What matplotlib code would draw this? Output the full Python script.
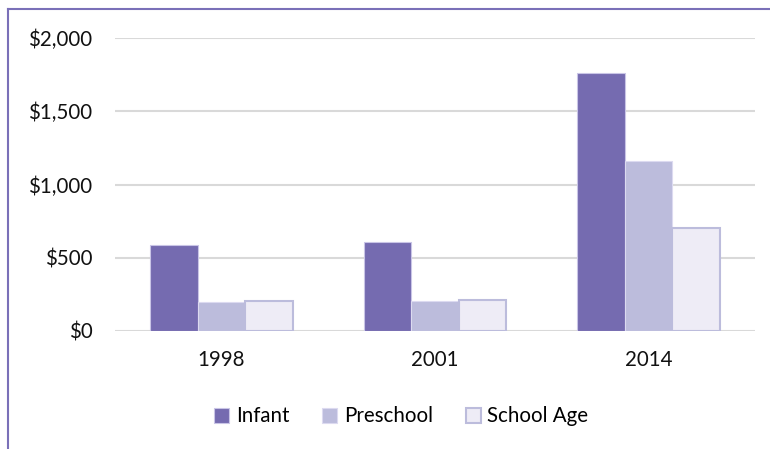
import matplotlib.pyplot as plt
from matplotlib.lines import Line2D
from matplotlib.ticker import FuncFormatter
import numpy as np

years = ['1998', '2001', '2014']
infant = [585, 605, 1763]
preschool = [199, 205, 1159]
school_age = [201, 210, 701]

plt.rcParams['font.family'] = ['Lato', 'DejaVu Sans']

fig = plt.figure(figsize=(7.7, 4.49), dpi=100)
ax = fig.add_axes([0.149, 0.263, 0.832, 0.652])

x = np.arange(len(years))
w = 0.223
ax.bar(x - w, infant, w, color='#756BB0', edgecolor='#C9C5E6', linewidth=0.8, label='Infant', zorder=3)
ax.bar(x, preschool, w, color='#BCBCDC', edgecolor='#DCDAF0', linewidth=0.8, label='Preschool', zorder=3)
ax.bar(x + w, school_age, w, color='#EEECF6', edgecolor='#BCBCDC', linewidth=1.5, label='School Age', zorder=3)

ax.set_xlim(-0.5, 2.5)
ax.set_ylim(0, 2000)
ax.set_yticks([0, 500, 1000, 1500, 2000])
ax.yaxis.set_major_formatter(FuncFormatter(lambda v, p: '${:,.0f}'.format(v)))
ax.set_xticks(x)
ax.set_xticklabels(years)
ax.grid(axis='y', color='#D9D9D9', linewidth=1.5, zorder=0)
for s in ax.spines.values():
    s.set_visible(False)
ax.tick_params(length=0, labelsize=14.8, colors='#111111')
ax.tick_params(axis='y', pad=16)
ax.tick_params(axis='x', pad=14)

ax.legend(loc='upper center', bbox_to_anchor=(0.447, -0.195), ncol=3, frameon=False,
          fontsize=14.8, handlelength=0.75, handleheight=0.75, columnspacing=1.6, handletextpad=0.3)

fig.add_artist(Line2D([0.011, 0.011], [0, 0.98], color='#7A70B8', linewidth=1.5))
fig.add_artist(Line2D([0.011, 1.0], [0.979, 0.979], color='#7A70B8', linewidth=1.5))

fig.savefig('out.png', dpi=100)
